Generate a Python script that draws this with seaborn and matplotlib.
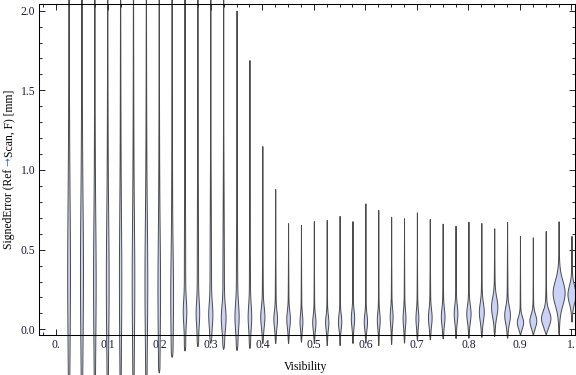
import numpy as np
import matplotlib
matplotlib.use("Agg")
import matplotlib.pyplot as plt
from matplotlib.ticker import FixedLocator, MultipleLocator
import seaborn as sns

# ---- data -------------------------------------------------------------
visibility = [0.025, 0.05, 0.075, 0.1, 0.125, 0.15, 0.175, 0.2, 0.225, 0.25,
              0.275, 0.3, 0.325, 0.35, 0.375, 0.4, 0.425, 0.45, 0.475, 0.5,
              0.525, 0.55, 0.575, 0.6, 0.625, 0.65, 0.675, 0.7, 0.725, 0.75,
              0.775, 0.8, 0.825, 0.85, 0.875, 0.9, 0.925, 0.95, 0.975, 1.0]
# lowest / highest signed error of each violin [mm]
err_min = [-0.40, -0.40, -0.40, -0.40, -0.40, -0.40, -0.40, -0.274, -0.176, -0.136,
           -0.109, -0.088, -0.126, -0.130, -0.117, -0.086, -0.086, -0.086, -0.078, -0.086,
           -0.099, -0.099, -0.086, -0.084, -0.099, -0.092, -0.084, -0.067, -0.063, -0.057,
           -0.055, -0.053, -0.048, -0.042, -0.053, -0.036, -0.034, -0.030, -0.030, 0.048]
err_max = [2.60, 2.60, 2.60, 2.60, 2.60, 2.60, 2.60, 2.60, 2.60, 2.60,
           2.60, 2.60, 2.60, 2.00, 1.69, 1.15, 0.88, 0.666, 0.656, 0.679,
           0.686, 0.712, 0.679, 0.790, 0.749, 0.707, 0.697, 0.734, 0.692, 0.663,
           0.650, 0.675, 0.667, 0.634, 0.673, 0.586, 0.577, 0.617, 0.678, 0.586]
# location of the density peak and its spread [mm]
err_mode = [0.35, 0.35, 0.30, 0.30, 0.30, 0.30, 0.30, 0.25, 0.20, 0.11,
            0.10, 0.09, 0.07, 0.08, 0.08, 0.08, 0.065, 0.065, 0.05, 0.045,
            0.045, 0.05, 0.07, 0.05, 0.06, 0.08, 0.07, 0.07, 0.075, 0.08,
            0.10, 0.10, 0.11, 0.14, 0.09, 0.045, 0.055, 0.07, 0.23, 0.22]
err_spread = [0.40, 0.40, 0.35, 0.35, 0.35, 0.35, 0.35, 0.30, 0.25, 0.07,
              0.07, 0.07, 0.07, 0.08, 0.07, 0.06, 0.05, 0.05, 0.045, 0.045,
              0.045, 0.045, 0.05, 0.045, 0.045, 0.05, 0.05, 0.05, 0.05, 0.05,
              0.05, 0.05, 0.055, 0.06, 0.05, 0.035, 0.04, 0.045, 0.075, 0.055]
# relative density of the peak and of the long tail (violin half-widths)
peak_density = [0.7, 0.8, 0.7, 0.8, 0.6, 0.7, 0.8, 0.7, 0.8, 1.1,
                1.1, 1.3, 1.6, 1.4, 1.2, 1.6, 1.4, 1.4, 1.1, 1.3,
                1.3, 1.3, 1.3, 1.3, 1.1, 1.1, 1.1, 1.1, 1.4, 1.4,
                1.4, 1.7, 2.0, 2.7, 2.4, 2.8, 3.1, 4.0, 5.3, 3.5]
tail_density = [0.7, 0.7, 0.6, 0.6, 0.6, 0.6, 0.6, 0.6, 0.6, 0.7,
                0.7, 0.8, 0.8, 0.7, 0.6, 0.5, 0.45, 0.4, 0.35, 0.35,
                0.35, 0.35, 0.35, 0.35, 0.35, 0.35, 0.35, 0.35, 0.45, 0.45,
                0.45, 0.45, 0.45, 0.45, 0.45, 0.35, 0.35, 0.7, 0.7, 0.5]
tail_spread = [1.1, 1.1, 1.0, 1.0, 1.0, 1.0, 1.0, 0.9, 0.9, 0.8,
               0.8, 0.7, 0.7, 0.6, 0.5, 0.35, 0.3, 0.25, 0.25, 0.25,
               0.25, 0.25, 0.25, 0.25, 0.25, 0.25, 0.25, 0.25, 0.25, 0.25,
               0.25, 0.25, 0.25, 0.25, 0.25, 0.2, 0.2, 0.15, 0.2, 0.15]

x_ticks = [0.0, 0.1, 0.2, 0.3, 0.4, 0.5, 0.6, 0.7, 0.8, 0.9, 1.0]
x_tick_labels = ["0.", "0.1", "0.2", "0.3", "0.4", "0.5", "0.6", "0.7", "0.8", "0.9", "1."]
y_ticks = [0.0, 0.5, 1.0, 1.5, 2.0]
y_tick_labels = ["0.0", "0.5", "1.0", "1.5", "2.0"]

# ---- style --------------------------------------------------------------
sns.set_theme(style="ticks")
plt.rcParams["font.family"] = ["Liberation Serif", "DejaVu Serif"]
FS = 8.4
FILL = "#cbd2f7"
EDGE = "#4a4a4a"

W, H = 576, 375
fig = plt.figure(figsize=(W / 100, H / 100), dpi=100)
fig.patch.set_facecolor("white")
left, right, top, bottom = 39.3, 575.3, 4.3, 335.3
ax = fig.add_axes([left / W, 1 - bottom / H, (right - left) / W, (bottom - top) / H])
ax.set_facecolor("white")

ax.set_xlim(-0.0328, 1.0074)
ax.set_ylim(-0.0377, 2.040)

px_per_x = (right - left) / (1.0074 + 0.0328)

# ---- violins (symmetric smooth densities) -------------------------------
for pos, lo, hi, m, s, a, b, t in zip(visibility, err_min, err_max, err_mode,
                                      err_spread, peak_density, tail_density, tail_spread):
    y = np.linspace(lo, hi, 600)
    half = a * np.exp(-0.5 * ((y - m) / s) ** 2) + b * np.exp(-0.5 * ((y - m) / t) ** 2)
    taper = np.sqrt(np.clip(np.minimum(y - lo, hi - y) / 0.03, 0, 1))
    half = half * taper / px_per_x
    ax.fill_betweenx(y, pos - half, pos + half, facecolor=FILL, edgecolor=EDGE,
                     linewidth=0.7, clip_on=False, zorder=1)

# ---- frame & ticks -------------------------------------------------------
for sp in ax.spines.values():
    sp.set_visible(True)
    sp.set_linewidth(0.75)
    sp.set_color("black")
    sp.set_zorder(3)

ax.xaxis.set_major_locator(FixedLocator(x_ticks))
ax.set_xticklabels(x_tick_labels)
ax.xaxis.set_minor_locator(MultipleLocator(0.025))
ax.yaxis.set_major_locator(FixedLocator(y_ticks))
ax.set_yticklabels(y_tick_labels)
ax.yaxis.set_minor_locator(MultipleLocator(0.1))

ax.tick_params(which="both", direction="in", top=True, right=True,
               labeltop=False, labelright=False, width=0.6, color="black")
ax.tick_params(which="major", length=4.0, labelsize=FS, labelcolor="#1a1a33", pad=3)
ax.tick_params(which="minor", length=2.5)
ax.grid(False)

# ---- axis labels ---------------------------------------------------------
fig.text(306 / W, 1 - 367 / H, "Visibility", fontsize=FS, ha="center", va="center",
         color="black")

fig.canvas.draw()
renderer = fig.canvas.get_renderer()
parts = [("SignedError (Ref", "black", 0.0, ["Liberation Serif"], FS),
         ("\u2192", "#3d6fd6", 2.5, ["DejaVu Sans"], FS * 0.9),
         ("Scan, F) [mm]", "black", 0.5, ["Liberation Serif"], FS)]
objs, lens = [], []
for s, c, g, fam, fs in parts:
    tx = fig.text(0, 0, s, rotation=90, rotation_mode="anchor", fontsize=fs,
                  color=c, ha="left", va="baseline", family=fam)
    lens.append(tx.get_window_extent(renderer).height)
    objs.append(tx)
total = sum(lens) + sum(p[2] for p in parts)
ypix = (H - 169) - total / 2
x_base = 12.0
for tx, L, (s, c, g, fam, fs) in zip(objs, lens, parts):
    ypix += g
    tx.set_position((x_base / W, ypix / H))
    ypix += L

fig.savefig("out.png", dpi=100, facecolor="white")
